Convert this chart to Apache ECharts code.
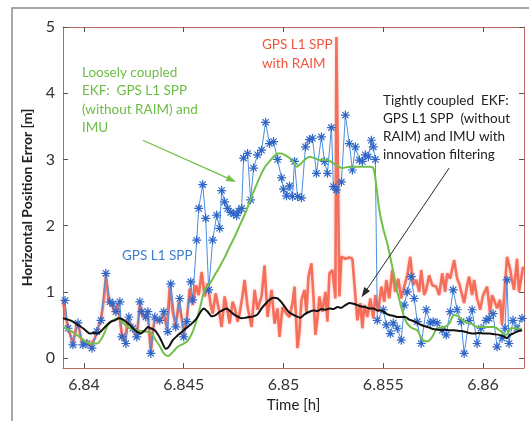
<!DOCTYPE html>
<html><head><meta charset="utf-8">
<script src="https://cdn.jsdelivr.net/npm/echarts@6/dist/echarts.min.js"></script>
<style>html,body{margin:0;padding:0;background:#fff}#chart{width:529px;height:421px}</style>
</head><body><div id="chart"></div>
<script>
// Axis ticks
const xTicks = [6.84, 6.845, 6.85, 6.855, 6.86];
const xTickLabels = ['6.84', '6.845', '6.85', '6.855', '6.86'];
const yTicks = [0, 1, 2, 3, 4, 5];
const yTickLabels = ['0', '1', '2', '3', '4', '5'];

// GPS L1 SPP (without RAIM): time [h], horizontal error [m]
const sppTime = [6.83905,6.83920,6.83945,6.83970,6.83995,6.84015,6.84040,6.84065,6.84085,6.84110,
  6.84130,6.84145,6.84160,6.84180,6.84190,6.84210,6.84225,6.84245,6.84265,6.84280,
  6.84290,6.84310,6.84320,6.84335,6.84355,6.84380,6.84400,6.84420,6.84435,6.84460,
  6.84480,6.84500,6.84515,6.84535,6.84545,6.84565,6.84575,6.84595,6.84610,6.84625,
  6.84645,6.84665,6.84680,6.84690,6.84705,6.84720,6.84735,6.84750,6.84765,6.84775,
  6.84790,6.84800,6.84820,6.84835,6.84850,6.84870,6.84890,6.84910,6.84930,6.84950,
  6.84970,6.84990,6.85000,6.85015,6.85030,6.85045,6.85055,6.85070,6.85090,6.85110,
  6.85130,6.85145,6.85165,6.85190,6.85205,6.85220,6.85240,6.85250,6.85265,6.85290,
  6.85310,6.85330,6.85345,6.85360,6.85380,6.85395,6.85410,6.85425,6.85440,6.85450,
  6.85460,6.85470,6.85500,6.85515,6.85535,6.85550,6.85570,6.85590,6.85605,6.85620,
  6.85640,6.85655,6.85670,6.85690,6.85715,6.85735,6.85750,6.85770,6.85795,6.85815,
  6.85835,6.85850,6.85870,6.85890,6.85905,6.85930,6.85945,6.85970,6.85990,6.86015,
  6.86030,6.86050,6.86070,6.86095,6.86110,6.86120,6.86130,6.86150,6.86170,6.86195];
const sppErr = [0.87,0.45,0.20,0.53,0.20,0.22,0.15,0.40,0.57,1.28,
  0.85,0.82,0.70,0.85,0.32,0.22,0.62,0.45,0.32,0.85,
  0.70,0.62,0.70,0.07,0.62,0.57,0.70,0.40,1.12,0.47,
  0.90,0.32,0.55,1.15,0.88,1.78,2.26,2.62,2.11,1.03,
  1.78,2.16,1.96,2.53,2.36,2.26,2.20,2.18,2.15,2.22,
  2.26,3.02,3.09,2.39,2.87,3.07,3.14,3.56,3.24,3.27,
  3.00,2.72,2.55,2.45,2.60,2.44,2.97,2.44,2.42,3.19,
  3.30,3.32,2.79,3.34,2.97,2.79,3.48,2.59,2.54,2.66,
  3.67,3.24,2.84,3.19,2.99,2.97,3.07,3.04,3.29,3.19,
  3.00,0.57,0.73,0.50,0.37,0.53,0.45,0.27,0.80,1.00,
  1.23,0.90,0.55,0.22,0.73,0.53,0.55,0.53,0.42,0.35,
  0.70,1.03,0.73,0.55,0.07,0.57,0.73,0.22,0.45,0.57,
  0.60,0.67,0.17,0.30,0.45,1.18,0.22,0.57,0.45,0.60];

// GPS L1 SPP with RAIM
const raimTime = [6.83895,6.83910,6.83925,6.83945,6.83960,6.83970,6.83985,6.83995,6.84015,6.84030,
  6.84040,6.84055,6.84065,6.84085,6.84100,6.84110,6.84125,6.84140,6.84155,6.84170,
  6.84180,6.84190,6.84205,6.84220,6.84235,6.84250,6.84265,6.84280,6.84290,6.84305,
  6.84320,6.84335,6.84345,6.84355,6.84370,6.84385,6.84400,6.84415,6.84430,6.84445,
  6.84460,6.84475,6.84490,6.84500,6.84515,6.84530,6.84545,6.84560,6.84575,6.84590,
  6.84605,6.84620,6.84635,6.84645,6.84660,6.84675,6.84690,6.84705,6.84720,6.84730,
  6.84745,6.84755,6.84770,6.84780,6.84795,6.84805,6.84820,6.84840,6.84855,6.84870,
  6.84890,6.84905,6.84920,6.84940,6.84955,6.84970,6.84980,6.84995,6.85015,6.85030,
  6.85045,6.85055,6.85070,6.85080,6.85090,6.85105,6.85115,6.85125,6.85140,6.85150,
  6.85160,6.85170,6.85180,6.85195,6.85210,6.85220,6.85230,6.85245,6.85260,6.85265,
  6.85275,6.85280,6.85290,6.85310,6.85330,6.85345,6.85355,6.85370,6.85385,6.85395,
  6.85405,6.85420,6.85435,6.85450,6.85460,6.85475,6.85490,6.85505,6.85515,6.85530,
  6.85545,6.85560,6.85575,6.85590,6.85605,6.85620,6.85635,6.85650,6.85665,6.85680,
  6.85690,6.85705,6.85715,6.85730,6.85745,6.85765,6.85780,6.85795,6.85810,6.85820,
  6.85835,6.85855,6.85870,6.85880,6.85895,6.85905,6.85920,6.85930,6.85945,6.85955,
  6.85970,6.85985,6.86000,6.86020,6.86035,6.86045,6.86055,6.86070,6.86085,6.86095,
  6.86105,6.86120,6.86135,6.86145,6.86155,6.86170,6.86180,6.86190,6.86200];
const raimErr = [0.87,0.60,0.42,0.22,0.45,0.53,0.30,0.22,0.25,0.18,
  0.17,0.30,0.42,0.57,0.90,1.25,0.85,0.80,0.68,0.82,
  0.80,0.35,0.25,0.60,0.50,0.40,0.32,0.82,0.68,0.60,
  0.68,0.08,0.40,0.60,0.55,0.58,0.68,0.45,1.08,0.70,
  0.48,0.85,0.60,0.35,0.58,1.05,0.80,1.10,0.95,1.30,
  0.93,1.13,0.80,0.67,0.98,0.75,0.47,0.93,0.70,0.52,
  0.85,0.77,0.55,0.67,0.95,1.18,0.77,0.47,1.03,0.73,
  0.93,1.40,0.62,1.03,0.52,0.75,0.32,0.77,0.67,0.62,
  0.83,1.08,0.15,0.40,0.88,1.03,0.68,1.23,1.43,0.93,
  0.35,0.60,0.93,0.70,1.00,0.55,1.28,1.33,0.90,4.85,
  4.85,0.93,1.53,1.50,1.52,1.50,1.13,0.57,0.83,0.45,
  0.80,0.62,0.90,0.60,0.95,0.70,1.08,0.85,1.18,0.90,
  1.33,1.00,1.20,0.90,1.08,1.25,1.53,1.10,1.18,1.00,
  1.33,0.95,1.03,1.25,1.10,1.08,0.95,1.28,1.00,1.28,
  1.20,1.48,1.20,1.13,0.95,0.83,1.10,1.23,0.95,1.18,
  0.90,0.73,0.95,1.08,0.67,0.95,0.88,0.75,0.88,0.50,
  0.52,1.53,1.35,1.18,1.03,1.50,1.00,1.18,1.38];

// Loosely coupled EKF
const lcTime = [6.83895,6.83930,6.83965,6.84000,6.84030,6.84065,6.84095,6.84120,6.84145,6.84170,
  6.84200,6.84235,6.84270,6.84305,6.84335,6.84360,6.84380,6.84400,6.84420,6.84445,
  6.84470,6.84495,6.84520,6.84545,6.84565,6.84585,6.84605,6.84630,6.84655,6.84680,
  6.84705,6.84730,6.84755,6.84780,6.84810,6.84840,6.84865,6.84890,6.84910,6.84930,
  6.84950,6.84970,6.84990,6.85010,6.85030,6.85050,6.85065,6.85085,6.85105,6.85130,
  6.85155,6.85180,6.85220,6.85260,6.85295,6.85330,6.85380,6.85430,6.85450,6.85465,
  6.85480,6.85500,6.85520,6.85540,6.85555,6.85570,6.85590,6.85605,6.85620,6.85645,
  6.85670,6.85695,6.85720,6.85745,6.85770,6.85805,6.85830,6.85855,6.85880,6.85905,
  6.85940,6.85970,6.86005,6.86055,6.86090,6.86115,6.86140,6.86170,6.86195];
const lcErr = [0.47,0.42,0.35,0.27,0.22,0.22,0.33,0.50,0.57,0.60,
  0.52,0.44,0.42,0.40,0.38,0.27,0.18,0.07,0.03,0.09,
  0.17,0.21,0.26,0.40,0.58,0.80,1.03,1.12,1.25,1.38,
  1.52,1.68,1.83,2.00,2.20,2.44,2.62,2.79,2.90,2.97,
  3.04,3.09,3.09,3.06,3.02,2.96,2.89,2.93,2.99,3.04,
  3.02,2.99,2.99,2.92,2.87,2.89,2.89,2.89,2.87,2.60,
  2.24,1.95,1.73,1.45,1.23,1.00,0.77,0.62,0.52,0.45,
  0.42,0.28,0.25,0.32,0.45,0.47,0.52,0.65,0.62,0.55,
  0.52,0.47,0.47,0.47,0.40,0.35,0.45,0.45,0.42];

// Tightly coupled EKF with innovation filtering
const tcTime = [6.83895,6.83920,6.83945,6.83970,6.83995,6.84015,6.84030,6.84050,6.84070,6.84090,
  6.84115,6.84135,6.84155,6.84175,6.84190,6.84210,6.84230,6.84245,6.84265,6.84285,
  6.84305,6.84320,6.84335,6.84355,6.84370,6.84385,6.84400,6.84410,6.84425,6.84445,
  6.84465,6.84480,6.84500,6.84515,6.84540,6.84565,6.84585,6.84600,6.84620,6.84640,
  6.84660,6.84680,6.84700,6.84715,6.84735,6.84755,6.84775,6.84790,6.84810,6.84830,
  6.84850,6.84870,6.84890,6.84910,6.84930,6.84950,6.84970,6.84990,6.85005,6.85025,
  6.85045,6.85065,6.85085,6.85105,6.85130,6.85150,6.85170,6.85190,6.85210,6.85230,
  6.85250,6.85270,6.85290,6.85310,6.85330,6.85350,6.85370,6.85390,6.85410,6.85430,
  6.85450,6.85470,6.85490,6.85510,6.85530,6.85550,6.85570,6.85590,6.85610,6.85630,
  6.85650,6.85670,6.85690,6.85710,6.85730,6.85750,6.85770,6.85790,6.85810,6.85830,
  6.85855,6.85880,6.85905,6.85930,6.85955,6.85980,6.86005,6.86030,6.86055,6.86080,
  6.86100,6.86120,6.86135,6.86150,6.86170,6.86195];
const tcErr = [0.60,0.58,0.55,0.50,0.45,0.40,0.37,0.38,0.37,0.42,
  0.50,0.55,0.57,0.60,0.59,0.55,0.50,0.45,0.40,0.37,
  0.42,0.47,0.45,0.42,0.36,0.28,0.18,0.14,0.17,0.27,
  0.33,0.37,0.42,0.46,0.52,0.60,0.70,0.75,0.70,0.63,
  0.65,0.70,0.73,0.75,0.70,0.65,0.62,0.60,0.61,0.62,
  0.63,0.66,0.75,0.82,0.88,0.91,0.90,0.84,0.78,0.70,
  0.66,0.63,0.61,0.66,0.70,0.72,0.71,0.74,0.73,0.75,
  0.74,0.77,0.76,0.80,0.83,0.82,0.80,0.78,0.77,0.75,
  0.75,0.72,0.72,0.68,0.65,0.64,0.62,0.62,0.62,0.58,
  0.56,0.53,0.50,0.48,0.46,0.44,0.43,0.42,0.43,0.42,
  0.42,0.41,0.40,0.38,0.37,0.38,0.37,0.37,0.36,0.35,
  0.33,0.30,0.35,0.37,0.40,0.42];

// Annotation arrows (time [h], error [m]): tail, head
const lcArrow = [[6.84295, 3.29], [6.84740, 2.69]];
const tcArrow = [[6.85830, 2.87], [6.85405, 0.98]];

const pairs = (t, v) => t.map((x, i) => [x, v[i]]);
const nearest = (arr, v) => arr.reduce((b, a, i) => Math.abs(a - v) < Math.abs(arr[b] - v) ? i : b, 0);

const frameColor = '#b86a5e';
const tickFont = {color: '#333', fontFamily: 'Lato', fontSize: 16};
const annFont = 'Lato';

function xAxisDef(pos, labels) {
  return {
    type: 'value', position: pos, min: 6.83895, max: 6.86205,
    axisLine: {show: true, onZero: false, lineStyle: {color: frameColor, width: 1}},
    axisTick: {show: true, inside: true, length: 5, customValues: xTicks, lineStyle: {color: '#555'}},
    axisLabel: Object.assign({show: labels, customValues: xTicks, margin: 9,
      formatter: v => xTickLabels[nearest(xTicks, v)]}, tickFont),
    splitLine: {show: false},
    name: labels ? 'Time [h]' : '', nameLocation: 'middle', nameGap: 30,
    nameTextStyle: {color: '#222', fontFamily: 'Lato', fontSize: 15}
  };
}
function yAxisDef(pos, labels) {
  return {
    type: 'value', position: pos, min: -0.15, max: 5,
    axisLine: {show: true, onZero: false, lineStyle: {color: frameColor, width: 1}},
    axisTick: {show: true, inside: true, length: 5, customValues: yTicks, lineStyle: {color: '#555'}},
    axisLabel: Object.assign({show: labels, customValues: yTicks, margin: 8,
      formatter: v => yTickLabels[nearest(yTicks, v)]}, tickFont),
    splitLine: {show: false},
    name: labels ? 'Horizontal Position Error [m]' : '', nameLocation: 'middle', nameGap: 26,
    nameTextStyle: {color: '#222', fontFamily: 'Lato', fontSize: 14, fontWeight: 'bold'}
  };
}

const asterisk = 'path://M5,0L5,10M0,5L10,5M1.5,1.5L8.5,8.5M1.5,8.5L8.5,1.5';

const chart = echarts.init(document.getElementById('chart'), null, {renderer: 'canvas'});
chart.setOption({
  animation: false,
  backgroundColor: '#fff',
  grid: {left: 63, right: 5, top: 27, bottom: 53},
  xAxis: [xAxisDef('bottom', true), xAxisDef('top', false)],
  yAxis: [yAxisDef('left', true), yAxisDef('right', false)],
  series: [
    {
      name: 'GPS L1 SPP with RAIM', type: 'line', data: pairs(raimTime, raimErr),
      showSymbol: false, z: 1,
      lineStyle: {color: 'rgba(242,85,62,0.8)', width: 2.6, shadowBlur: 3, shadowColor: 'rgba(245,110,90,0.5)'}
    },
    {
      name: 'GPS L1 SPP', type: 'line', data: pairs(sppTime, sppErr), z: 2,
      symbol: asterisk, symbolSize: 9,
      itemStyle: {color: 'rgba(0,0,0,0)', borderColor: '#2f66c8', borderWidth: 1.2},
      lineStyle: {color: '#4a8fe0', width: 1}
    },
    {
      name: 'Loosely coupled EKF', type: 'line', data: pairs(lcTime, lcErr), z: 3,
      showSymbol: false, smooth: 0.3,
      lineStyle: {color: '#72c04a', width: 2},
      markLine: {
        silent: true, symbol: ['none', 'triangle'], symbolSize: [7, 10],
        label: {show: false}, lineStyle: {color: '#72c04a', width: 1.3, type: 'solid'},
        data: [[{coord: lcArrow[0]}, {coord: lcArrow[1]}]]
      }
    },
    {
      name: 'Tightly coupled EKF', type: 'line', data: pairs(tcTime, tcErr), z: 4,
      showSymbol: false, smooth: 0.2,
      lineStyle: {color: '#111', width: 2},
      markLine: {
        silent: true, symbol: ['none', 'triangle'], symbolSize: [7, 10],
        label: {show: false}, lineStyle: {color: '#2a2a2a', width: 1, type: 'solid'},
        data: [[{coord: tcArrow[0]}, {coord: tcArrow[1]}]]
      }
    }
  ],
  graphic: [
    {type: 'rect', silent: true, z: -10, shape: {x: 12, y: 8, width: 540, height: 430},
      style: {fill: 'none', stroke: '#8c8c8c', lineWidth: 1.5}},
    {type: 'text', left: 82, top: 63, silent: true,
      style: {text: 'Loosely coupled\nEKF:  GPS L1 SPP\n(without RAIM) and\nIMU', fill: '#6cbd45',
        font: '13.5px ' + annFont, lineHeight: 18.5}},
    {type: 'text', left: 262, top: 35, silent: true,
      style: {text: 'GPS L1 SPP\nwith RAIM', fill: '#f0553f', font: '13.5px ' + annFont, lineHeight: 19, align: 'center', x: 31}},
    {type: 'text', left: 122, top: 249, silent: true,
      style: {text: 'GPS L1 SPP', fill: '#3b7fd0', font: '13.5px ' + annFont}},
    {type: 'text', left: 383, top: 92, silent: true,
      style: {text: 'Tightly coupled  EKF:\nGPS L1 SPP  (without\nRAIM) and IMU with\ninnovation filtering', fill: '#222',
        font: '13.5px ' + annFont, lineHeight: 18}}
  ]
});
</script>
</body></html>
